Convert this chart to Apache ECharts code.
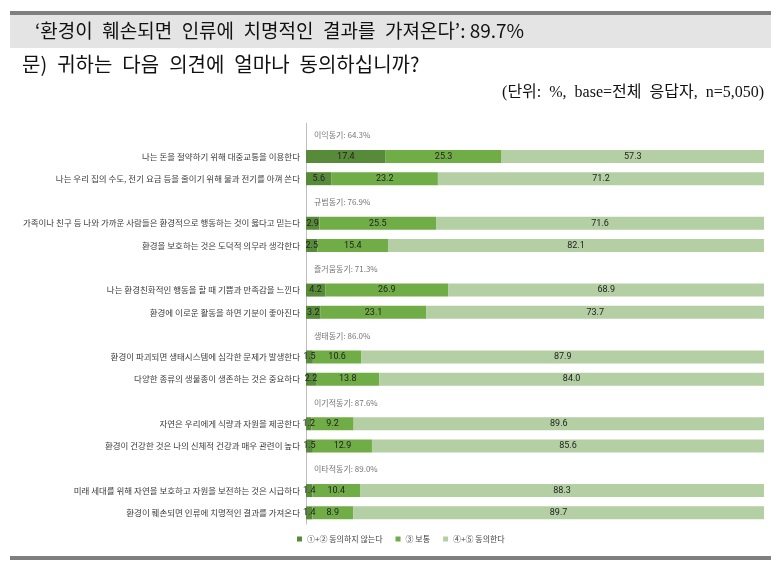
<!DOCTYPE html>
<html>
<head>
<meta charset="utf-8">
<script src="https://cdn.jsdelivr.net/npm/echarts@6/dist/echarts.min.js"></script>
<style>
  html, body { margin: 0; padding: 0; background: #fff; }
  #chart { width: 782px; height: 569px; }
</style>
</head>
<body>
<div id="chart"></div>
<script>
// 동기 그룹 라벨
const groupNames = ["이익동기: 64.3%", "규범동기: 76.9%", "즐거움동기: 71.3%", "생태동기: 86.0%", "이기적동기: 87.6%", "이타적동기: 89.0%"];
// 문항 (그룹당 2개)
const items = [
  "나는 돈을 절약하기 위해 대중교통을 이용한다",
  "나는 우리 집의 수도, 전기 요금 등을 줄이기 위해 물과 전기를 아껴 쓴다",
  "가족이나 친구 등 나와 가까운 사람들은 환경적으로 행동하는 것이 옳다고 믿는다",
  "환경을 보호하는 것은 도덕적 의무라 생각한다",
  "나는 환경친화적인 행동을 할 때 기쁨과 만족감을 느낀다",
  "환경에 이로운 활동을 하면 기분이 좋아진다",
  "환경이 파괴되면 생태시스템에 심각한 문제가 발생한다",
  "다양한 종류의 생물종이 생존하는 것은 중요하다",
  "자연은 우리에게 식량과 자원을 제공한다",
  "환경이 건강한 것은 나의 신체적 건강과 매우 관련이 높다",
  "미래 세대를 위해 자연을 보호하고 자원을 보전하는 것은 시급하다",
  "환경이 훼손되면 인류에 치명적인 결과를 가져온다"
];
const disagree = [17.4, 5.6, 2.9, 2.5, 4.2, 3.2, 1.5, 2.2, 1.2, 1.5, 1.4, 1.4]; // ①+②
const neutral = [25.3, 23.2, 25.5, 15.4, 26.9, 23.1, 10.6, 13.8, 9.2, 12.9, 10.4, 8.9]; // ③
const agree = [57.3, 71.2, 71.6, 82.1, 68.9, 73.7, 87.9, 84.0, 89.6, 85.6, 88.3, 89.7]; // ④+⑤
const legendNames = ["①+② 동의하지 않는다", "③ 보통", "④+⑤ 동의한다"];

const colors = ["#588b39", "#70ad47", "#b4cfa4"];
const FONT = "'Noto Sans CJK KR', 'Noto Sans', sans-serif";
const SP = "\u2002"; // 제목용 넓은 공백

// 그룹 라벨 행 + 문항 2행씩 카테고리 구성
let cats = [], d1 = [], d2 = [], d3 = [], grp = [];
groupNames.forEach((g, gi) => {
  cats.push("");
  d1.push("-"); d2.push("-"); d3.push("-");
  grp.push([0, cats.length - 1, g]);
  for (let k = 0; k < 2; k++) {
    const i = gi * 2 + k;
    cats.push(items[i]);
    d1.push(disagree[i]); d2.push(neutral[i]); d3.push(agree[i]);
  }
});

const valLabel = {
  show: true,
  position: "inside",
  fontSize: 9,
  color: "#222",
  fontFamily: "Roboto, sans-serif",
  formatter: p => Number(p.value).toFixed(1)
};

function barSeries(name, data, color) {
  return {
    name: name,
    type: "bar",
    stack: "total",
    barWidth: 13,
    data: data,
    itemStyle: { color: color },
    label: valLabel,
    emphasis: { disabled: true }
  };
}

const chart = echarts.init(document.getElementById("chart"));
chart.setOption({
  animation: false,
  color: colors,
  textStyle: { fontFamily: FONT },
  grid: { left: 306, right: 18, top: 123, bottom: 45 },
  legend: {
    data: legendNames,
    bottom: 21,
    left: 292,
    itemWidth: 5,
    itemHeight: 5,
    itemGap: 13,
    icon: "rect",
    textStyle: { fontSize: 8, color: "#404040", fontFamily: FONT }
  },
  xAxis: {
    type: "value",
    min: 0,
    max: 100,
    show: false
  },
  yAxis: {
    type: "category",
    inverse: true,
    data: cats,
    axisTick: { show: false },
    axisLine: { show: true, lineStyle: { color: "#bfbfbf", width: 1 } },
    axisLabel: { fontSize: 8.5, color: "#3a3a3a", margin: 6, fontFamily: FONT }
  },
  series: [
    barSeries(legendNames[0], d1, colors[0]),
    barSeries(legendNames[1], d2, colors[1]),
    barSeries(legendNames[2], d3, colors[2]),
    {
      // 그룹 라벨
      type: "scatter",
      symbolSize: 0,
      data: grp,
      label: {
        show: true,
        position: "right",
        distance: 8,
        offset: [0, 1],
        fontSize: 8,
        color: "#505050",
        fontFamily: FONT,
        formatter: p => p.value[2]
      },
      silent: true
    }
  ],
  graphic: [
    { type: "rect", shape: { x: 10, y: 15, width: 761, height: 33 }, style: { fill: "#e4e4e4" } },
    { type: "rect", shape: { x: 10, y: 11, width: 761, height: 4 }, style: { fill: "#7f7f7f" } },
    { type: "rect", shape: { x: 10, y: 556, width: 761, height: 4 }, style: { fill: "#7f7f7f" } },
    {
      type: "text", left: 35, top: 21,
      style: { text: ["‘환경이", "훼손되면", "인류에", "치명적인", "결과를", "가져온다’: 89.7%"].join(SP), font: "19px " + FONT, fill: "#111" }
    },
    {
      type: "text", left: 22, top: 54,
      style: { text: ["문)", "귀하는", "다음", "의견에", "얼마나", "동의하십니까?"].join(SP), font: "20px " + FONT, fill: "#111" }
    },
    {
      type: "text", right: 18, top: 85,
      style: { text: ["(단위:", "%,", "base=전체", "응답자,", "n=5,050)"].join(SP), font: "16px 'Liberation Serif', 'Noto Sans CJK KR', serif", fill: "#111" }
    }
  ]
});
</script>
</body>
</html>
